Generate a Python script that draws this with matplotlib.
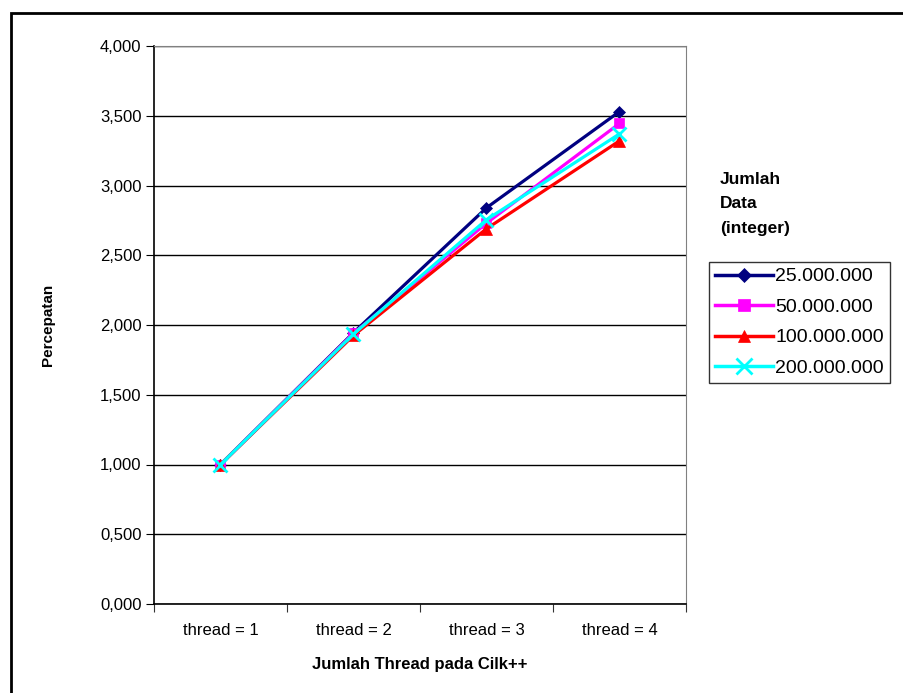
import matplotlib
matplotlib.use("Agg")
import matplotlib.pyplot as plt
from matplotlib.patches import Rectangle
from matplotlib.lines import Line2D
from matplotlib.ticker import FuncFormatter, FixedLocator

plt.rcParams["font.family"] = ["Liberation Sans", "DejaVu Sans"]

categories = ["thread = 1", "thread = 2", "thread = 3", "thread = 4"]
series_names = ["25.000.000", "50.000.000", "100.000.000", "200.000.000"]
speedup_25m = [1.000, 1.945, 2.840, 3.530]
speedup_50m = [1.000, 1.940, 2.730, 3.445]
speedup_100m = [1.000, 1.925, 2.690, 3.320]
speedup_200m = [1.000, 1.935, 2.755, 3.370]

colors = ["#000080", "#ff00ff", "#ff0000", "#00ffff"]
markers = ["D", "s", "^", "x"]
msizes = [6, 7, 8, 10]

W, H = 904, 693
fig = plt.figure(figsize=(W / 100, H / 100), dpi=100)

# outer chart border (runs off right/bottom edge)
fig.patches.append(Rectangle((11 / W, -0.05), 1.1, (H - 13) / H + 0.05,
                             transform=fig.transFigure, fill=False,
                             edgecolor="black", linewidth=2))

ax = fig.add_axes([154 / W, 1 - 604 / H, (686 - 154) / W, (604 - 46) / H])
x = [0.5, 1.5, 2.5, 3.5]
all_series = [speedup_25m, speedup_50m, speedup_100m, speedup_200m]
for vals, c, m, ms, name in zip(all_series, colors, markers, msizes, series_names):
    ax.plot(x, vals, color=c, linewidth=2.3, marker=m, markersize=ms,
            markeredgewidth=2 if m == "x" else 0.5, markeredgecolor=c,
            label=name, clip_on=False, zorder=3)

ax.set_xlim(0, 4)
ax.set_ylim(0, 4)
ax.set_yticks([0, 0.5, 1, 1.5, 2, 2.5, 3, 3.5, 4])
ax.yaxis.set_major_formatter(FuncFormatter(lambda v, p: f"{v:.3f}".replace(".", ",")))
ax.grid(axis="y", color="black", linewidth=1)
ax.set_axisbelow(True)

ax.xaxis.set_major_locator(FixedLocator([0, 1, 2, 3, 4]))
ax.set_xticklabels([])
ax.xaxis.set_minor_locator(FixedLocator(x))
ax.set_xticklabels(categories, minor=True)
ax.tick_params(axis="x", which="minor", length=0, pad=14, labelsize=12)
ax.tick_params(axis="x", which="major", length=6, direction="out", color="#333")
ax.tick_params(axis="y", length=6, direction="out", labelsize=12, pad=3)

for s in ["top", "right"]:
    ax.spines[s].set_color("#808080")
for s in ["left", "bottom"]:
    ax.spines[s].set_color("black")
    ax.spines[s].set_linewidth(1.2)

fig.text(48 / W, 1 - 325 / H, "Percepatan", rotation=90, ha="center", va="center",
         fontsize=11, fontweight="bold", family=["Liberation Sans Narrow", "Liberation Sans"])
fig.text(420 / W, 1 - 665 / H, "Jumlah Thread pada Cilk++", ha="center", va="center",
         fontsize=12, fontweight="bold")

fig.text(720 / W, 1 - 204 / H, "Jumlah\nData\n(integer)", ha="left", va="center",
         fontsize=12.5, fontweight="bold", linespacing=1.8)

handles = [Line2D([], [], color=c, marker=m, markersize=ms + 1, linewidth=2.5,
                  markeredgewidth=2 if m == "x" else 0.5, markeredgecolor=c)
           for c, m, ms in zip(colors, markers, msizes)]
leg = fig.legend(handles, series_names, loc="upper left",
                 bbox_to_anchor=(709 / W, 1 - 262 / H), fontsize=14,
                 frameon=True, fancybox=False, edgecolor="black",
                 handlelength=3.0, handletextpad=0.1, borderpad=0.3,
                 labelspacing=0.66, borderaxespad=0)
leg.get_frame().set_linewidth(1)

fig.savefig("out.png", dpi=100)
